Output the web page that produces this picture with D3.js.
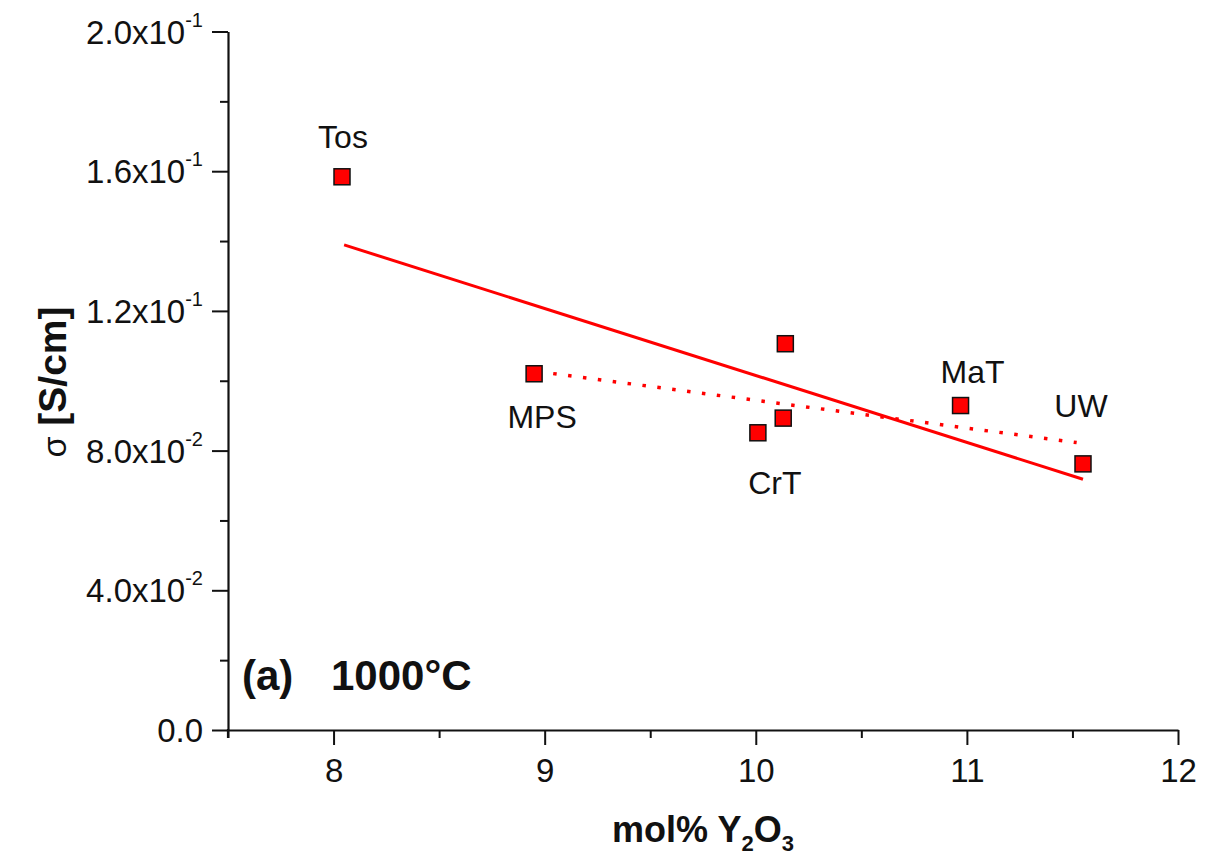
<!DOCTYPE html>
<html>
<head>
<meta charset="utf-8">
<script src="https://cdn.jsdelivr.net/npm/d3@7"></script>
<style>
  body { margin: 0; background: #fff; }
  text { font-family: "Liberation Sans", Arial, sans-serif; fill: #111; }
</style>
</head>
<body>
<svg id="chart" width="1212" height="855"></svg>
<script>
// DATA
var names = ['Tos', 'MPS', '', 'CrT', '', 'MaT', 'UW'];
var molY2O3 = [8.04, 8.95, 10.14, 10.01, 10.13, 10.97, 11.55];
var sigma = [0.1584, 0.1020, 0.1106, 0.0851, 0.0893, 0.0929, 0.0762];
// fit lines (end points)
var fitAllX = [8.05, 11.55];
var fitAllY = [0.1389, 0.0718];
var fitSubX = [8.97, 11.52];
var fitSubY = [0.1026, 0.0823];
// ticks
var xTicks = [8, 9, 10, 11, 12];
var xMinor = [7.5, 8.5, 9.5, 10.5, 11.5];
var yTicks = [0, 0.04, 0.08, 0.12, 0.16, 0.2];
var yMinor = [0.02, 0.06, 0.1, 0.14, 0.18];
var yTickMant = ['0.0', '4.0x10', '8.0x10', '1.2x10', '1.6x10', '2.0x10'];
var yTickExp = ['', '-2', '-2', '-1', '-1', '-1'];
// label offsets from the point (px)
var labelDx = [1, 8, 0, 17, 0, 12, -2];
var labelDy = [-29, 54, 0, 61, 0, -23, -47];

var svg = d3.select('#chart');
var x = d3.scaleLinear().domain([7.5, 12]).range([228, 1178]);
var y = d3.scaleLinear().domain([0, 0.2]).range([730, 31.5]);

// MINOR TICKS
svg.append('g').attr('transform', 'translate(0,730)')
   .call(d3.axisBottom(x).tickValues(xMinor).tickSize(8).tickFormat(''))
   .call(g => g.select('.domain').remove())
   .selectAll('line').attr('stroke', '#111').attr('stroke-width', 2);
svg.append('g').attr('transform', 'translate(228,0)')
   .call(d3.axisLeft(y).tickValues(yMinor).tickSize(8).tickFormat(''))
   .call(g => g.select('.domain').remove())
   .selectAll('line').attr('stroke', '#111').attr('stroke-width', 2);

// X AXIS
var xAxis = svg.append('g').attr('transform', 'translate(0,730)')
   .call(d3.axisBottom(x).tickValues(xTicks).tickSize(15).tickSizeOuter(0)
         .tickPadding(14).tickFormat(d3.format('d')));
xAxis.select('.domain').attr('stroke', '#111').attr('stroke-width', 2.2);
xAxis.selectAll('line').attr('stroke', '#111').attr('stroke-width', 2);
xAxis.selectAll('text').style('font-size', '33px').style('font-family', '"Liberation Sans", Arial, sans-serif').attr('fill', '#111');

// Y AXIS
var yAxis = svg.append('g').attr('transform', 'translate(228,0)')
   .call(d3.axisLeft(y).tickValues(yTicks).tickSize(16).tickSizeOuter(0).tickFormat(''));
yAxis.select('.domain').attr('stroke', '#111').attr('stroke-width', 2.2);
yAxis.selectAll('line').attr('stroke', '#111').attr('stroke-width', 2);
svg.append('line').attr('x1', 228).attr('x2', 228).attr('y1', 729).attr('y2', 738)
   .attr('stroke', '#111').attr('stroke-width', 2.2);

var yLab = svg.append('g').selectAll('text').data(yTicks).join('text')
   .attr('x', 203)
   .attr('y', d => y(d) + 12)
   .attr('text-anchor', 'end')
   .style('font-size', '33px');
yLab.append('tspan').text((d, i) => yTickMant[i]);
yLab.append('tspan').attr('dy', -17).style('font-size', '20px').text((d, i) => yTickExp[i]);

// FIT LINES
svg.append('line')
   .attr('x1', x(fitAllX[0])).attr('y1', y(fitAllY[0]))
   .attr('x2', x(fitAllX[1])).attr('y2', y(fitAllY[1]))
   .attr('stroke', '#ff0000').attr('stroke-width', 3);
svg.append('line')
   .attr('x1', x(fitSubX[0])).attr('y1', y(fitSubY[0]))
   .attr('x2', x(fitSubX[1])).attr('y2', y(fitSubY[1]))
   .attr('stroke', '#ff0000').attr('stroke-width', 3.5)
   .attr('stroke-dasharray', '3.5 11.5');

// POINTS
var pts = d3.range(molY2O3.length);
svg.append('g').selectAll('rect').data(pts).join('rect')
   .attr('x', i => x(molY2O3[i]) - 8)
   .attr('y', i => y(sigma[i]) - 8)
   .attr('width', 16).attr('height', 16)
   .attr('fill', '#ff0000').attr('stroke', '#111').attr('stroke-width', 1.5);

svg.append('g').selectAll('text').data(pts.filter(i => names[i])).join('text')
   .attr('x', i => x(molY2O3[i]) + labelDx[i])
   .attr('y', i => y(sigma[i]) + labelDy[i])
   .attr('text-anchor', 'middle')
   .style('font-size', '32px')
   .text(i => names[i]);

// PANEL LABEL
svg.append('text').attr('x', 242).attr('y', 690)
   .style('font-size', '42px').style('font-weight', 'bold')
   .text('(a)');
svg.append('text').attr('x', 331).attr('y', 690)
   .style('font-size', '42px').style('font-weight', 'bold')
   .text('1000°C');

// AXIS TITLES
var xt = svg.append('text').attr('x', 703).attr('y', 842)
   .attr('text-anchor', 'middle')
   .style('font-size', '36px').style('font-weight', 'bold');
xt.append('tspan').text('mol% Y');
xt.append('tspan').attr('dy', 9).style('font-size', '22px').text('2');
xt.append('tspan').attr('dy', -9).text('O');
xt.append('tspan').attr('dy', 9).style('font-size', '22px').text('3');

var yt = svg.append('text')
   .attr('transform', 'translate(66,382) rotate(-90)')
   .attr('text-anchor', 'middle')
   .style('font-size', '39px').style('font-weight', 'bold');
yt.append('tspan').style('font-weight', 'normal').style('font-size', '34px').text('σ');
yt.append('tspan').text(' [S/cm]');
</script>
</body>
</html>
